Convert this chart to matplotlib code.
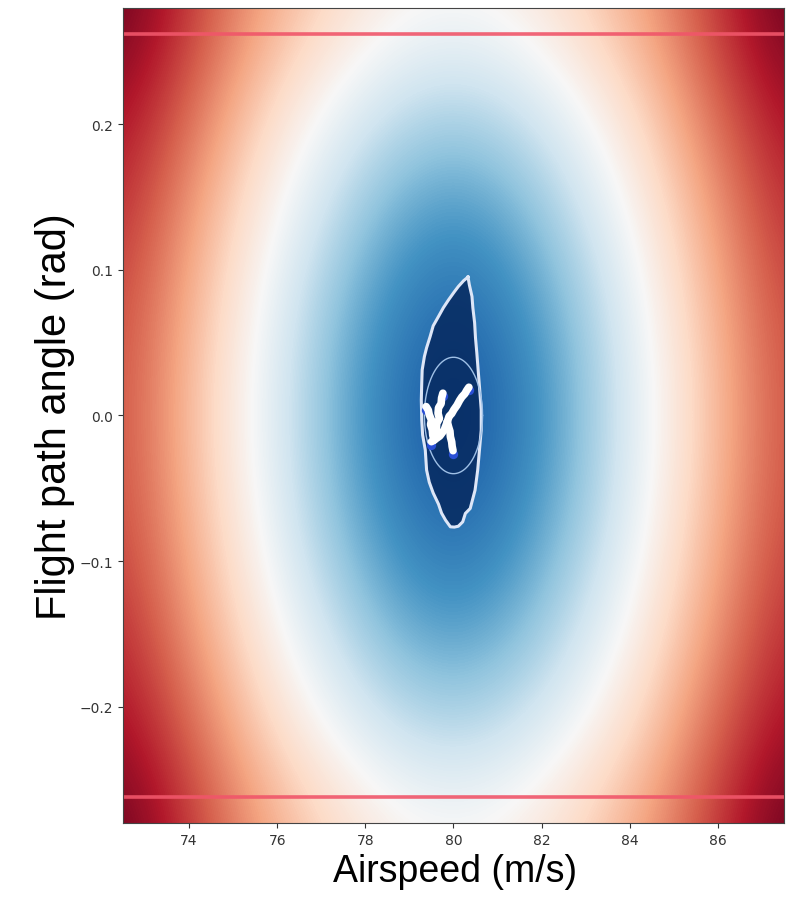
import numpy as np
import matplotlib
matplotlib.use("Agg")
import matplotlib.pyplot as plt

# airspeed / flight path angle sample points of the background cost map
airspeeds = [72.5, 74.0, 75.5, 77.0, 78.5, 80.0, 81.5, 83.0, 84.5, 86.0, 87.5]
angles = [-0.28, -0.21, -0.14, -0.07, 0.0, 0.07, 0.14, 0.21, 0.28]
# cost level (0 = dark blue, 0.5 = white, 1 = dark red)
cost = [
    [1.00, 0.86, 0.72, 0.62, 0.54, 0.51, 0.54, 0.62, 0.72, 0.86, 1.00],
    [0.92, 0.79, 0.63, 0.50, 0.39, 0.34, 0.39, 0.50, 0.63, 0.79, 0.92],
    [0.87, 0.72, 0.56, 0.40, 0.26, 0.20, 0.26, 0.40, 0.56, 0.72, 0.87],
    [0.83, 0.68, 0.51, 0.32, 0.18, 0.10, 0.18, 0.32, 0.51, 0.68, 0.83],
    [0.82, 0.66, 0.49, 0.30, 0.14, 0.05, 0.14, 0.30, 0.49, 0.66, 0.82],
    [0.83, 0.68, 0.51, 0.32, 0.18, 0.10, 0.18, 0.32, 0.51, 0.68, 0.83],
    [0.87, 0.72, 0.56, 0.40, 0.26, 0.20, 0.26, 0.40, 0.56, 0.72, 0.87],
    [0.92, 0.79, 0.63, 0.50, 0.39, 0.34, 0.39, 0.50, 0.63, 0.79, 0.92],
    [1.00, 0.86, 0.72, 0.62, 0.54, 0.51, 0.54, 0.62, 0.72, 0.86, 1.00],
]

# flight path angle limits (+-15 deg)
gamma_limit = 0.2618

# reachable set boundary
contour_v = [80.33, 80.23, 80.11, 80.02, 79.89, 79.77, 79.66, 79.54, 79.47, 79.39,
             79.34, 79.29, 79.28, 79.27, 79.28, 79.30, 79.36, 79.39, 79.45, 79.54,
             79.66, 79.73, 79.82, 79.93, 80.02, 80.11, 80.21, 80.27, 80.38, 80.43,
             80.49, 80.55, 80.59, 80.63, 80.63, 80.59, 80.56, 80.53, 80.50, 80.48,
             80.44, 80.42, 80.36, 80.33]
contour_g = [0.0951, 0.0926, 0.0886, 0.0850, 0.0795, 0.0740, 0.0680, 0.0616, 0.0542, 0.0465,
             0.0405, 0.0313, 0.0222, 0.0107, -0.0031, -0.0134, -0.0237, -0.0375, -0.0458, -0.0533,
             -0.0609, -0.0671, -0.0719, -0.0765, -0.0767, -0.0761, -0.0731, -0.0673, -0.0639, -0.0582,
             -0.0513, -0.0375, -0.0237, -0.0100, 0.0038, 0.0198, 0.0313, 0.0430, 0.0533, 0.0637,
             0.0740, 0.0818, 0.0898, 0.0951]

# target set ellipse
ellipse_center = (80.0, 0.0)
ellipse_half_v = 0.66
ellipse_half_g = 0.040

# closed loop trajectories
traj_v = [
    [80.35, 80.30, 80.26, 80.19, 80.14, 80.08, 80.01, 79.96, 79.90, 79.86],
    [79.99, 79.97, 79.96, 79.93, 79.92, 79.89, 79.86],
    [79.76, 79.73, 79.72, 79.66, 79.65, 79.68, 79.62, 79.61, 79.57, 79.56, 79.69, 79.79, 79.86],
    [79.38, 79.43, 79.45, 79.50, 79.48, 79.52, 79.53, 79.56],
    [79.50, 79.53, 79.56],
]
traj_g = [
    [0.0194, 0.0172, 0.0150, 0.0127, 0.0104, 0.0070, 0.0040, 0.0013, -0.0006, -0.0043],
    [-0.0242, -0.0212, -0.0182, -0.0146, -0.0108, -0.0079, -0.0043],
    [0.0153, 0.0120, 0.0082, 0.0052, 0.0015, -0.0021, -0.0054, -0.0098, -0.0136, -0.0169, -0.0141, -0.0100, -0.0043],
    [0.0061, 0.0036, 0.0005, -0.0031, -0.0063, -0.0100, -0.0136, -0.0169],
    [-0.0180, -0.0175, -0.0169],
]

fig = plt.figure(figsize=(7.95, 9.04), dpi=100)
ax = fig.add_axes([0.1547, 0.0885, 0.8314, 0.9016])

dv = (airspeeds[1] - airspeeds[0]) / 2
dg = (angles[1] - angles[0]) / 2
ax.imshow(np.array(cost), cmap="RdBu_r", vmin=0, vmax=1, origin="lower",
          interpolation="bicubic", aspect="auto",
          extent=[airspeeds[0] - dv, airspeeds[-1] + dv, angles[0] - dg, angles[-1] + dg])

# limit lines
for g in (gamma_limit, -gamma_limit):
    ax.axhline(g, color="#f0566a", lw=2.6, alpha=0.9)

# reachable set
ax.fill(contour_v, contour_g, color="#06295f", alpha=0.85, lw=0)
ax.plot(contour_v, contour_g, color="#dde6f7", lw=2.2)

# target ellipse
t = np.linspace(0, 2 * np.pi, 200)
ax.plot(ellipse_center[0] + ellipse_half_v * np.cos(t),
        ellipse_center[1] + ellipse_half_g * np.sin(t), color="#9fc0e6", lw=1.0)

# trajectories, start points in blue
for v, g in zip(traj_v, traj_g):
    ax.scatter(v[0], g[0] - 0.002, s=45, color="#2a4fd6", zorder=4, lw=0)
for v, g in zip(traj_v, traj_g):
    ax.plot(v, g, color="white", lw=5.5, solid_capstyle="round", solid_joinstyle="round", zorder=5)

ax.set_xlim(72.5, 87.5)
ax.set_ylim(-0.28, 0.28)
ax.set_xticks([74, 76, 78, 80, 82, 84, 86])
ax.set_yticks([-0.2, -0.1, 0.0, 0.1, 0.2])
ax.tick_params(labelsize=10, labelcolor="#333333", color="#333333")
for s in ax.spines.values():
    s.set_color("#444444")

lab_font = ["Liberation Sans", "DejaVu Sans"]
fig.text(455 / 795, 1 - 872 / 904, "Airspeed (m/s)", family=lab_font, fontsize=27,
         ha="center", va="center")
fig.text(55 / 795, 1 - 417 / 904, "Flight path angle (rad)", family=lab_font, fontsize=30,
         ha="center", va="center", rotation=90)

fig.savefig("out.png", dpi=100)
